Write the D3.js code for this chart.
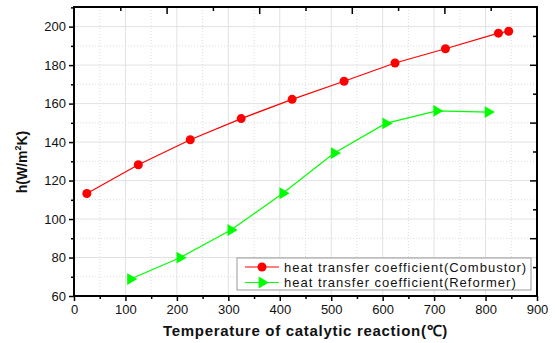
<!DOCTYPE html>
<html>
<head>
<meta charset="utf-8">
<script src="https://cdn.jsdelivr.net/npm/d3@7"></script>
<style>
  body { margin: 0; background: #fff; }
  text { font-family: "Liberation Sans", Arial, sans-serif; }
</style>
</head>
<body>
<div id="chart"></div>
<script>
// data
var combustorX = [25, 125, 226, 325, 424, 525, 624, 722, 825, 845];
var combustorY = [113.3, 128.2, 141.2, 152.2, 162.2, 171.6, 181.1, 188.5, 196.6, 197.6];
var reformerX = [110, 206, 305, 406, 506, 606, 705, 805];
var reformerY = [68.8, 79.9, 94.3, 113.4, 134.3, 149.7, 156.2, 155.6];
var seriesNames = ["heat transfer coefficient(Combustor)", "heat transfer coefficient(Reformer)"];
var xTicks = [0, 100, 200, 300, 400, 500, 600, 700, 800, 900];
var yTicks = [60, 80, 100, 120, 140, 160, 180, 200];

var W = 555, H = 343;
var m = { left: 74, right: 18, top: 7, bottom: 47 };
var iw = W - m.left - m.right, ih = H - m.top - m.bottom;

var svg = d3.select("#chart").append("svg")
    .attr("width", W).attr("height", H);

var x = d3.scaleLinear().domain([0, 900]).range([0, iw]);
var y = d3.scaleLinear().domain([60, 210.2]).range([ih, 0]);

var g = svg.append("g").attr("transform", "translate(" + m.left + "," + m.top + ")");

// minor grid (dotted)
g.append("g").selectAll("line")
    .data(d3.range(50, 900, 100))
    .enter().append("line")
    .attr("x1", d => x(d)).attr("x2", d => x(d))
    .attr("y1", 0).attr("y2", ih)
    .style("stroke", "#dcdcdc").style("stroke-dasharray", "1,2");
g.append("g").selectAll("line")
    .data(d3.range(70, 211, 20))
    .enter().append("line")
    .attr("y1", d => y(d)).attr("y2", d => y(d))
    .attr("x1", 0).attr("x2", iw)
    .style("stroke", "#dcdcdc").style("stroke-dasharray", "1,2");

// major grid
g.append("g").selectAll("line")
    .data(xTicks.slice(1, -1))
    .enter().append("line")
    .attr("x1", d => x(d)).attr("x2", d => x(d))
    .attr("y1", 0).attr("y2", ih)
    .style("stroke", "#e2e2e2");
g.append("g").selectAll("line")
    .data(yTicks.slice(1))
    .enter().append("line")
    .attr("y1", d => y(d)).attr("y2", d => y(d))
    .attr("x1", 0).attr("x2", iw)
    .style("stroke", "#e2e2e2");

// bottom axis
g.append("g").attr("transform", "translate(0," + ih + ")")
    .call(d3.axisBottom(x).tickValues(xTicks).tickSize(5).tickPadding(4).tickFormat(d3.format("d")));
g.append("g").attr("transform", "translate(0," + ih + ")")
    .call(d3.axisBottom(x).tickValues(d3.range(50, 900, 100)).tickSize(3).tickFormat(""));

// left axis
g.append("g")
    .call(d3.axisLeft(y).tickValues(yTicks).tickSize(5).tickPadding(3).tickFormat(d3.format("d")));
g.append("g")
    .call(d3.axisLeft(y).tickValues(d3.range(70, 211, 20)).tickSize(3).tickFormat(""));

// top & right axes (inward ticks, own divisions)
var tx = d3.scaleLinear().domain([0, 10]).range([0, iw]);
var ty = d3.scaleLinear().domain([0, 10]).range([ih, 0]);
g.append("g")
    .call(d3.axisTop(tx).tickValues(d3.range(1, 10)).tickSize(-5).tickFormat(""))
    .selectAll(".tick line").attr("y2", (d) => d % 2 === 0 ? 7 : 4);
g.append("g").attr("transform", "translate(" + iw + ",0)")
    .call(d3.axisRight(ty).tickValues(d3.range(1, 10)).tickSize(-5).tickFormat(""))
    .selectAll(".tick line").attr("x2", (d) => d % 2 === 0 ? -7 : -4);

g.selectAll(".domain").remove();
g.selectAll(".tick line").style("stroke", "#000").style("stroke-width", 1.5);
g.selectAll(".tick text").style("font-size", "13px").style("fill", "#111")
    .style("font-family", "'Liberation Sans', Arial, sans-serif");

// frame
g.append("rect").attr("x", 0).attr("y", 0).attr("width", iw).attr("height", ih)
    .style("fill", "none").style("stroke", "#000").style("stroke-width", 2);

// series
var line = d3.line().x(d => x(d[0])).y(d => y(d[1]));
var comb = combustorX.map((v, i) => [v, combustorY[i]]);
var refo = reformerX.map((v, i) => [v, reformerY[i]]);

g.append("path").datum(comb).attr("d", line)
    .style("fill", "none").style("stroke", "#ff0000").style("stroke-width", 1.2);
g.append("path").datum(refo).attr("d", line)
    .style("fill", "none").style("stroke", "#00ff00").style("stroke-width", 1.2);

g.selectAll(".dot").data(comb).enter().append("circle")
    .attr("cx", d => x(d[0])).attr("cy", d => y(d[1])).attr("r", 4.5)
    .style("fill", "#ff0000");

var tri = d3.symbol().type(d3.symbolTriangle).size(60);
g.selectAll(".tri").data(refo).enter().append("path")
    .attr("d", tri)
    .attr("transform", d => "translate(" + x(d[0]) + "," + y(d[1]) + ") rotate(90)")
    .style("fill", "#00ff00");

// legend
var lg = svg.append("g").attr("transform", "translate(237,258)");
lg.append("rect").attr("width", 294).attr("height", 32)
    .style("fill", "#fff").style("stroke", "#999").style("stroke-width", 1);
var colors = ["#ff0000", "#00ff00"];
seriesNames.forEach(function(name, i) {
    var yy = 9 + i * 15.5;
    lg.append("line").attr("x1", 8).attr("x2", 42).attr("y1", yy).attr("y2", yy)
        .style("stroke", colors[i]).style("stroke-width", 1.2);
    if (i === 0) {
        lg.append("circle").attr("cx", 25).attr("cy", yy).attr("r", 4.5).style("fill", colors[i]);
    } else {
        lg.append("path").attr("d", tri)
            .attr("transform", "translate(25," + yy + ") rotate(90)")
            .style("fill", colors[i]);
    }
    lg.append("text").attr("x", 47).attr("y", yy + 4.5)
        .style("font-size", "13px").style("letter-spacing", "1px").style("fill", "#111")
        .text(name);
});

// axis titles
svg.append("text")
    .attr("x", m.left + iw / 2).attr("y", 336)
    .attr("text-anchor", "middle")
    .style("font-size", "15px").style("font-weight", "bold")
    .style("letter-spacing", "0.7px").style("fill", "#111")
    .text("Temperature of catalytic reaction(℃)");

var yt = svg.append("text")
    .attr("transform", "translate(27,162) rotate(-90)")
    .attr("text-anchor", "middle")
    .style("font-size", "14px").style("font-weight", "bold").style("fill", "#111");
yt.append("tspan").text("h(W/m");
yt.append("tspan").attr("dy", -6).style("font-size", "9px").text("2");
yt.append("tspan").attr("dy", 6).text("K)");
</script>
</body>
</html>
